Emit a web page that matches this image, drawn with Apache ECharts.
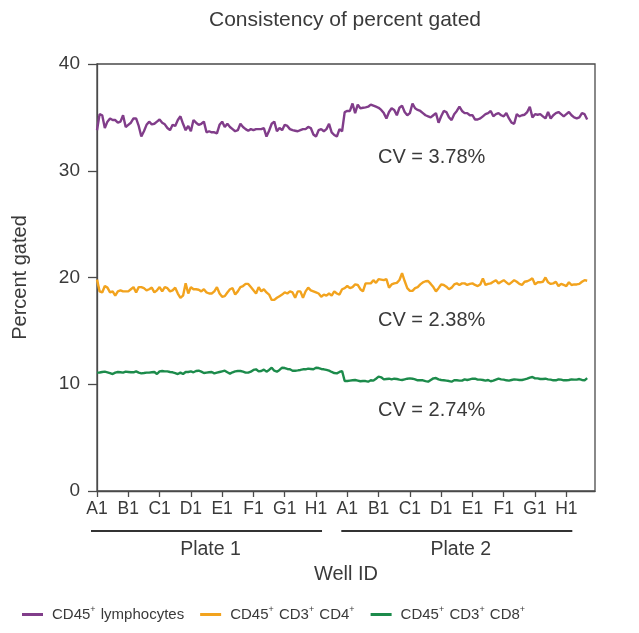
<!DOCTYPE html>
<html>
<head>
<meta charset="utf-8">
<script src="https://cdn.jsdelivr.net/npm/echarts@6/dist/echarts.min.js"></script>
<style>
  html, body { margin: 0; padding: 0; background: #fff; }
  #chart { width: 639px; height: 633px; }
</style>
</head>
<body>
<div id="chart"></div>
<script>
// ---- Data ----
const rows = ['A', 'B', 'C', 'D', 'E', 'F', 'G', 'H'];
const colsPerRow = 12;
const plates = ['Plate 1', 'Plate 2'];
const cvLabels = ['CV = 3.78%', 'CV = 2.38%', 'CV = 2.74%'];
const seriesNames = ['CD45+ lymphocytes', 'CD45+ CD3+ CD4+', 'CD45+ CD3+ CD8+'];
const yTicks = [0, 10, 20, 30, 40];

const lymphPlate1 = [
33.8,35.3,35.2,34.0,34.6,34.9,34.75,34.75,34.5,34.6,
35.2,34.1,34.3,34.5,34.9,34.9,34.2,33.2,33.7,34.3,
34.6,34.35,34.4,34.6,34.8,34.5,34.35,34.0,33.8,34.3,
34.2,34.75,35.1,34.4,33.8,34.2,33.7,34.75,34.5,34.3,
34.4,34.6,33.6,33.7,33.6,33.6,33.5,34.3,34.6,34.1,
34.4,34.1,33.9,33.7,33.8,34.4,34.1,33.9,33.75,33.9,
33.8,33.9,33.9,33.9,34.0,33.2,33.75,34.4,34.6,33.7,
34.0,33.8,34.3,34.2,33.9,33.8,33.75,33.7,33.8,33.9,
33.9,34.1,34.0,33.4,33.2,33.8,33.9,33.7,33.9,34.4,
33.6,33.35,33.2,33.9,33.7];
const lymphPlate2 = [
35.5,35.6,35.6,36.3,35.4,36.2,35.85,35.9,35.94,36.0,
36.2,36.1,36.0,35.9,35.7,35.4,34.9,35.5,35.85,35.7,
35.2,35.9,36.1,35.5,35.2,35.4,36.3,35.85,35.7,35.6,
35.4,35.2,35.1,35.0,35.2,35.4,34.5,35.1,35.6,35.5,
35.0,34.75,35.3,35.6,36.0,35.6,35.4,35.4,35.2,35.2,
34.8,34.8,34.9,35.1,35.3,35.4,35.6,35.1,35.3,35.4,
35.2,35.1,35.4,34.9,34.5,34.4,35.3,35.1,35.2,35.25,
35.5,36.0,35.0,35.3,35.25,35.3,35.1,34.9,35.5,34.9,
35.2,35.4,35.5,35.3,35.1,35.3,35.5,35.2,35.0,34.9,
35.0,35.4,35.3,34.8];

const cd4Plate1 = [
19.8,18.7,18.6,19.2,19.05,18.6,18.7,18.3,18.7,18.8,
18.7,18.7,18.7,18.9,19.1,18.6,19.1,19.1,19.0,18.8,
18.9,19.05,18.6,18.8,19.1,18.7,19.1,19.0,18.7,18.8,
19.05,18.5,18.1,18.3,19.45,18.5,19.1,18.9,18.9,18.85,
18.7,18.9,18.6,18.5,18.5,18.7,19.1,18.5,18.2,18.25,
18.6,18.9,19.0,18.4,18.7,19.1,19.2,19.4,19.4,19.1,
18.8,18.5,19.1,18.7,18.9,18.6,18.4,17.9,17.9,18.1,
18.25,18.4,18.6,18.5,18.7,18.6,18.1,18.7,18.7,18.1,
18.7,19.05,18.8,18.7,18.6,18.5,18.2,18.4,18.3,18.5,
18.3,18.7,18.5,18.4,18.9];
const cd4Plate2 = [
19.0,19.2,19.0,19.1,19.35,19.3,18.9,18.7,19.45,19.45,
19.45,19.75,19.5,19.85,19.8,19.75,19.85,19.05,19.35,19.45,
19.5,19.77,20.4,19.67,19.0,18.75,18.75,19.0,19.1,19.35,
19.55,19.65,19.67,19.4,19.1,18.7,19.0,19.35,19.3,19.14,
18.9,19.05,19.35,19.45,19.3,19.45,19.45,19.3,19.4,19.45,
19.3,19.2,19.35,19.92,19.3,19.4,19.45,19.6,19.75,19.45,
19.6,19.75,19.55,19.35,19.55,19.75,19.6,19.4,19.3,19.6,
19.65,19.77,19.92,19.35,19.55,19.55,19.6,20.0,19.55,19.4,
19.45,19.6,19.2,19.4,19.3,19.2,19.55,19.3,19.35,19.35,
19.4,19.6,19.75,19.7];

const cd8Plate1 = [
11.09,11.1,11.15,11.18,11.12,11.05,10.96,11.09,11.15,11.12,
11.09,11.18,11.15,11.12,11.12,11.21,11.09,11.02,11.05,11.09,
11.09,11.12,11.15,10.96,11.21,11.24,11.21,11.21,11.15,11.12,
11.05,10.96,11.09,10.96,11.15,11.15,11.21,11.12,11.24,11.27,
11.18,11.05,11.09,11.12,11.15,11.02,11.09,11.15,11.21,11.27,
11.12,10.99,11.12,11.21,11.24,11.24,11.18,11.09,11.09,11.18,
11.34,11.4,11.21,11.24,11.37,11.18,11.34,11.55,11.27,11.18,
11.34,11.55,11.52,11.43,11.4,11.27,11.27,11.3,11.34,11.4,
11.4,11.46,11.43,11.4,11.55,11.52,11.43,11.4,11.34,11.27,
11.15,11.05,11.02,11.15,11.24];
const cd8Plate2 = [
10.3,10.3,10.34,10.37,10.4,10.34,10.28,10.3,10.3,10.24,
10.37,10.34,10.52,10.71,10.65,10.46,10.49,10.52,10.46,10.52,
10.49,10.43,10.4,10.46,10.52,10.55,10.52,10.46,10.37,10.37,
10.37,10.3,10.24,10.4,10.55,10.58,10.46,10.4,10.37,10.34,
10.3,10.24,10.37,10.37,10.34,10.34,10.46,10.4,10.46,10.52,
10.52,10.43,10.43,10.4,10.34,10.4,10.28,10.34,10.43,10.52,
10.46,10.43,10.37,10.34,10.4,10.46,10.43,10.4,10.4,10.46,
10.52,10.62,10.68,10.55,10.55,10.49,10.49,10.52,10.46,10.43,
10.37,10.37,10.46,10.43,10.37,10.37,10.4,10.46,10.43,10.43,
10.49,10.4,10.37,10.58];

// ---- Build categories (well IDs for each plate) ----
const categories = [];
plates.forEach(() => {
  rows.forEach(r => {
    for (let c = 1; c <= colsPerRow; c++) categories.push(r + c);
  });
});

const colors = ['#813d8a', '#f2a31e', '#1c8b4b'];
const FONT = 'Liberation Sans';
const TXT = '#3a3a3a';
const AX = '#4a4a4a';

const chart = echarts.init(document.getElementById('chart'), null, { renderer: 'canvas' });

const legendFmt = name => {
  // render "+" as superscript
  return name.split('+').map((s, i, arr) => i < arr.length - 1 ? s + '{sup|+}' : s).join('');
};

const option = {
  backgroundColor: '#fff',
  animation: false,
  color: colors,
  title: {
    text: 'Consistency of percent gated',
    left: 340, top: 5, textAlign: 'center',
    textStyle: { fontFamily: FONT, fontSize: 21, fontWeight: 'normal', color: TXT }
  },
  grid: {
    left: 97, right: 44, top: 64, bottom: 142,
    show: true, borderColor: AX, borderWidth: 1.3, backgroundColor: 'transparent'
  },
  legend: {
    bottom: 6, left: 17,
    icon: 'rect', itemWidth: 21, itemHeight: 3, itemGap: 16,
    formatter: legendFmt,
    textStyle: {
      fontFamily: FONT, fontSize: 15, color: TXT, padding: [0, 0, 0, 4],
      rich: { sup: { fontFamily: FONT, fontSize: 9, color: TXT, verticalAlign: 'top', padding: [0, 1, 9, 0] } }
    },
    data: seriesNames
  },
  xAxis: {
    type: 'category',
    data: categories,
    boundaryGap: false,
    name: 'Well ID',
    nameLocation: 'middle',
    nameGap: 73,
    nameTextStyle: { fontFamily: FONT, fontSize: 20, color: TXT },
    axisLine: { lineStyle: { color: AX, width: 1.3 } },
    axisTick: { length: 6, lineStyle: { color: AX, width: 1.3 }, interval: (i) => i % colsPerRow === 0 },
    axisLabel: { interval: (i) => i % colsPerRow === 0, fontFamily: FONT, fontSize: 17.5, color: TXT, margin: 9 },
    splitLine: { show: false }
  },
  yAxis: {
    type: 'value',
    min: 0, max: 40, interval: 10,
    name: 'Percent gated',
    nameLocation: 'middle',
    nameGap: 67,
    nameTextStyle: { fontFamily: FONT, fontSize: 20, color: TXT },
    axisLine: { show: true, lineStyle: { color: AX, width: 1.3 } },
    axisTick: { show: true, length: 9, lineStyle: { color: AX, width: 1.3 } },
    axisLabel: { fontFamily: FONT, fontSize: 19, color: TXT, margin: 17 },
    splitLine: { show: false }
  },
  series: [
    { name: seriesNames[0], type: 'line', data: lymphPlate1.concat(lymphPlate2), showSymbol: false, lineStyle: { width: 2.4 } },
    { name: seriesNames[1], type: 'line', data: cd4Plate1.concat(cd4Plate2), showSymbol: false, lineStyle: { width: 2.4 } },
    { name: seriesNames[2], type: 'line', data: cd8Plate1.concat(cd8Plate2), showSymbol: false, lineStyle: { width: 2.4 } }
  ]
};
chart.setOption(option);

// ---- Annotations: plate underlines, plate labels, CV texts ----
const px = (i) => chart.convertToPixel({ xAxisIndex: 0 }, i);
const perPlate = rows.length * colsPerRow;
const lineY = 531;
const g = [];
plates.forEach((p, k) => {
  const x0 = px(k * perPlate) - 6;
  const x1 = px(k * perPlate + (rows.length - 1) * colsPerRow) + 6;
  g.push({ type: 'line', shape: { x1: x0, y1: lineY, x2: x1, y2: lineY }, style: { stroke: '#333', lineWidth: 1.8 } });
  g.push({ type: 'text', x: (x0 + x1) / 2 + 4, y: 550, style: { text: p, textAlign: 'center', textVerticalAlign: 'middle', fontFamily: FONT, fontSize: 19.5, fill: TXT } });
});
const cvY = [157, 320, 410];
cvLabels.forEach((t, k) => {
  g.push({ type: 'text', x: 378, y: cvY[k], style: { text: t, textAlign: 'left', textVerticalAlign: 'middle', fontFamily: FONT, fontSize: 20, fill: TXT } });
});
chart.setOption({ graphic: g });
</script>
</body>
</html>
